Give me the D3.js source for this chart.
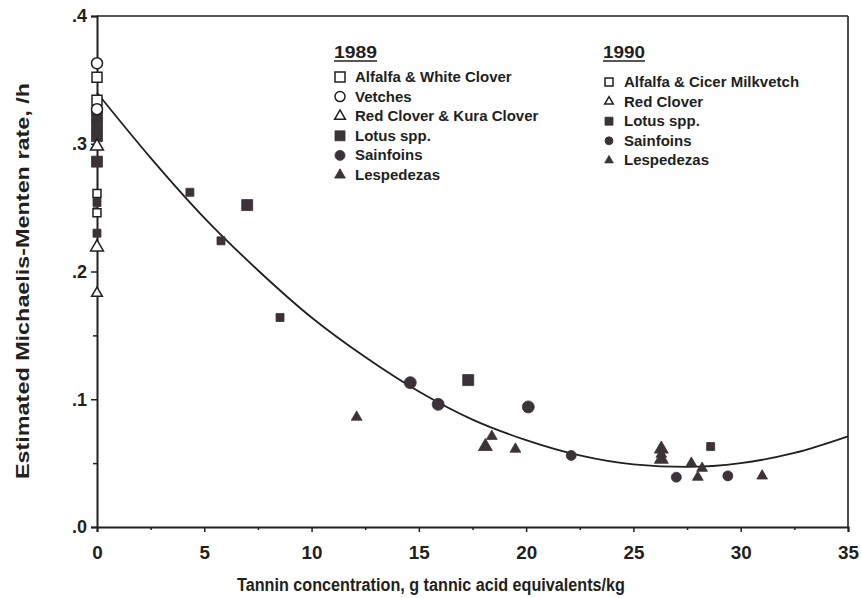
<!DOCTYPE html>
<html>
<head>
<meta charset="utf-8">
<script src="https://cdn.jsdelivr.net/npm/d3@7"></script>
<style>
  html, body { margin: 0; padding: 0; background: #fff; }
  svg text { font-family: "Liberation Sans", Arial, sans-serif; font-weight: bold; fill: #231f20; }
</style>
</head>
<body>
<script>
// Tannin concentration (g TAE/kg) vs estimated Michaelis-Menten rate (/h)

// 1989 harvest
const alfalfa89X   = [0, 0];
const alfalfa89Y   = [0.352, 0.334];
const vetches89X   = [0, 0];
const vetches89Y   = [0.363, 0.327];
const redClover89X = [0, 0];
const redClover89Y = [0.298, 0.219];
const lotus89X     = [0, 0, 0, 0, 7.0, 17.3];
const lotus89Y     = [0.322, 0.314, 0.306, 0.286, 0.252, 0.115];
const sainfoin89X  = [14.6, 15.9, 20.1];
const sainfoin89Y  = [0.113, 0.096, 0.094];
const lesped89X    = [18.1, 26.3, 26.3];
const lesped89Y    = [0.063, 0.061, 0.053];

// 1990 harvest
const alfalfa90X   = [0, 0];
const alfalfa90Y   = [0.261, 0.246];
const redClover90X = [0];
const redClover90Y = [0.183];
const lotus90X     = [0, 0, 4.33, 5.78, 8.53, 28.6];
const lotus90Y     = [0.254, 0.230, 0.262, 0.224, 0.164, 0.063];
const sainfoin90X  = [22.1, 27.0, 29.4];
const sainfoin90Y  = [0.056, 0.039, 0.040];
const lesped90X    = [12.1, 18.4, 19.5, 26.3, 27.7, 28.2, 28.0, 31.0];
const lesped90Y    = [0.086, 0.071, 0.061, 0.057, 0.050, 0.046, 0.039, 0.040];

// fitted response curve
const curveX = [0, 2.5, 5, 7.5, 10, 12.5, 15, 17.5, 20, 22.5, 25, 27.5, 30, 32.5, 35];
const curveY = [0.340, 0.289, 0.242, 0.201, 0.164, 0.133, 0.106, 0.084, 0.068, 0.056, 0.049, 0.047, 0.050, 0.058, 0.071];

// axes
const xTicks = [0, 5, 10, 15, 20, 25, 30, 35];
const xMinorTicks = [2.5, 7.5, 12.5, 17.5, 22.5, 27.5, 32.5];
const yTicks = [0, 0.1, 0.2, 0.3, 0.4];
const yTickLabels = [".0", ".1", ".2", ".3", ".4"];
const yMinorTicks = [0.05, 0.15, 0.25, 0.35];

const legend89Labels = ["Alfalfa & White Clover", "Vetches", "Red Clover & Kura Clover", "Lotus spp.", "Sainfoins", "Lespedezas"];
const legend89Shapes = ["square-open", "circle-open", "triangle-open", "square", "circle", "triangle"];
const legend90Labels = ["Alfalfa & Cicer Milkvetch", "Red Clover", "Lotus spp.", "Sainfoins", "Lespedezas"];
const legend90Shapes = ["square-open", "triangle-open", "square", "circle", "triangle"];

const W = 861, H = 598;
const INK = "#231f20", MARK = "#3b3337";

const svg = d3.select("body").append("svg")
  .attr("width", W).attr("height", H);

const x = d3.scaleLinear().domain([0, 35]).range([97, 848]);
const y = d3.scaleLinear().domain([0, 0.4]).range([527, 16]);

// frame (top and right)
svg.append("line").attr("x1", x(0)).attr("x2", x(35)).attr("y1", y(0.4)).attr("y2", y(0.4))
  .attr("stroke", INK).attr("stroke-width", 1.6);
svg.append("line").attr("x1", x(35)).attr("x2", x(35)).attr("y1", y(0.4)).attr("y2", y(0))
  .attr("stroke", INK).attr("stroke-width", 1.6);

// x axis
const xAxis = svg.append("g").attr("transform", `translate(0,${y(0)})`)
  .call(d3.axisBottom(x).tickValues(xTicks).tickFormat(d3.format("d")).tickSize(5).tickPadding(14));
svg.append("g").attr("transform", `translate(0,${y(0)})`)
  .call(d3.axisBottom(x).tickValues(xMinorTicks).tickFormat("").tickSize(3))
  .select(".domain").remove();
xAxis.selectAll("text")
  .style("font-size", "19px").attr("dy", "0.71em")
  .attr("textLength", d => String(d).length * 10.5)
  .attr("lengthAdjust", "spacingAndGlyphs");

// y axis
const yAxis = svg.append("g").attr("transform", `translate(${x(0)},0)`)
  .call(d3.axisLeft(y).tickValues(yTicks).tickFormat((d, i) => yTickLabels[i]).tickSize(6).tickPadding(4));
svg.append("g").attr("transform", `translate(${x(0)},0)`)
  .call(d3.axisLeft(y).tickValues(yMinorTicks).tickFormat("").tickSize(4))
  .select(".domain").remove();
yAxis.selectAll("text").style("font-size", "18px");

svg.selectAll(".domain").attr("stroke", INK).attr("stroke-width", 2);
svg.selectAll(".tick line").attr("stroke", INK).attr("stroke-width", 1.5);

// axis titles
svg.append("text").attr("x", 431).attr("y", 591).attr("text-anchor", "middle")
  .style("font-size", "18px")
  .attr("textLength", 388).attr("lengthAdjust", "spacingAndGlyphs")
  .text("Tannin concentration, g tannic acid equivalents/kg");
svg.append("text").attr("transform", `translate(29,${281}) rotate(-90)`).attr("text-anchor", "middle")
  .style("font-size", "19px")
  .attr("textLength", 396).attr("lengthAdjust", "spacingAndGlyphs")
  .text("Estimated Michaelis-Menten rate, /h");

// fitted curve
const curvePts = curveX.map((d, i) => [d, curveY[i]]);
svg.append("path").datum(curvePts)
  .attr("fill", "none").attr("stroke", INK).attr("stroke-width", 1.8)
  .attr("d", d3.line().x(d => x(d[0])).y(d => y(d[1])).curve(d3.curveMonotoneX));

// marker drawing
function marker(g, shape, size) {
  const open = shape.endsWith("-open");
  const base = shape.replace("-open", "");
  const symType = base === "square" ? d3.symbolSquare : base === "circle" ? d3.symbolCircle : d3.symbolTriangle;
  const area = base === "square" ? size * size : base === "circle" ? Math.PI * size * size / 4 : size * size * 0.5;
  g.append("path")
    .attr("d", d3.symbol().type(symType).size(area)())
    .attr("fill", open ? "#fff" : MARK)
    .attr("stroke", open ? INK : MARK)
    .attr("stroke-width", open ? 1.5 : 0.8);
}

function plotSeries(xs, ys, shape, size) {
  xs.forEach((xv, i) => {
    const g = svg.append("g").attr("transform", `translate(${x(xv)},${y(ys[i])})`);
    marker(g, shape, size);
  });
}

plotSeries(lotus89X, lotus89Y, "square", 11);
plotSeries(lotus90X, lotus90Y, "square", 8);
plotSeries(alfalfa89X, alfalfa89Y, "square-open", 10);
plotSeries(alfalfa90X, alfalfa90Y, "square-open", 8);
plotSeries(vetches89X, vetches89Y, "circle-open", 11);
plotSeries(redClover89X, redClover89Y, "triangle-open", 12);
plotSeries(redClover90X, redClover90Y, "triangle-open", 10);
plotSeries(sainfoin89X, sainfoin89Y, "circle", 12);
plotSeries(sainfoin90X, sainfoin90Y, "circle", 10);
plotSeries(lesped89X, lesped89Y, "triangle", 13);
plotSeries(lesped90X, lesped90Y, "triangle", 10);

// legends
function legend(x0, y0, title, titleLen, labels, shapes, size, firstGap, step, textDx) {
  svg.append("text").attr("x", x0).attr("y", y0).style("font-size", "17px")
    .attr("textLength", titleLen).attr("lengthAdjust", "spacingAndGlyphs").text(title);
  svg.append("line").attr("x1", x0).attr("x2", x0 + titleLen)
    .attr("y1", y0 + 3).attr("y2", y0 + 3).attr("stroke", INK).attr("stroke-width", 1.5);
  labels.forEach((lab, i) => {
    const yy = y0 + firstGap + i * step;
    const g = svg.append("g").attr("transform", `translate(${x0 + 6},${yy - 5})`);
    marker(g, shapes[i], size);
    svg.append("text").attr("x", x0 + textDx).attr("y", yy).style("font-size", "15px").text(lab);
  });
}

legend(334, 58, "1989", 43, legend89Labels, legend89Shapes, 10, 24, 19.6, 21);
legend(603, 58, "1990", 42, legend90Labels, legend90Shapes, 8, 29, 19.6, 21);
</script>
</body>
</html>
